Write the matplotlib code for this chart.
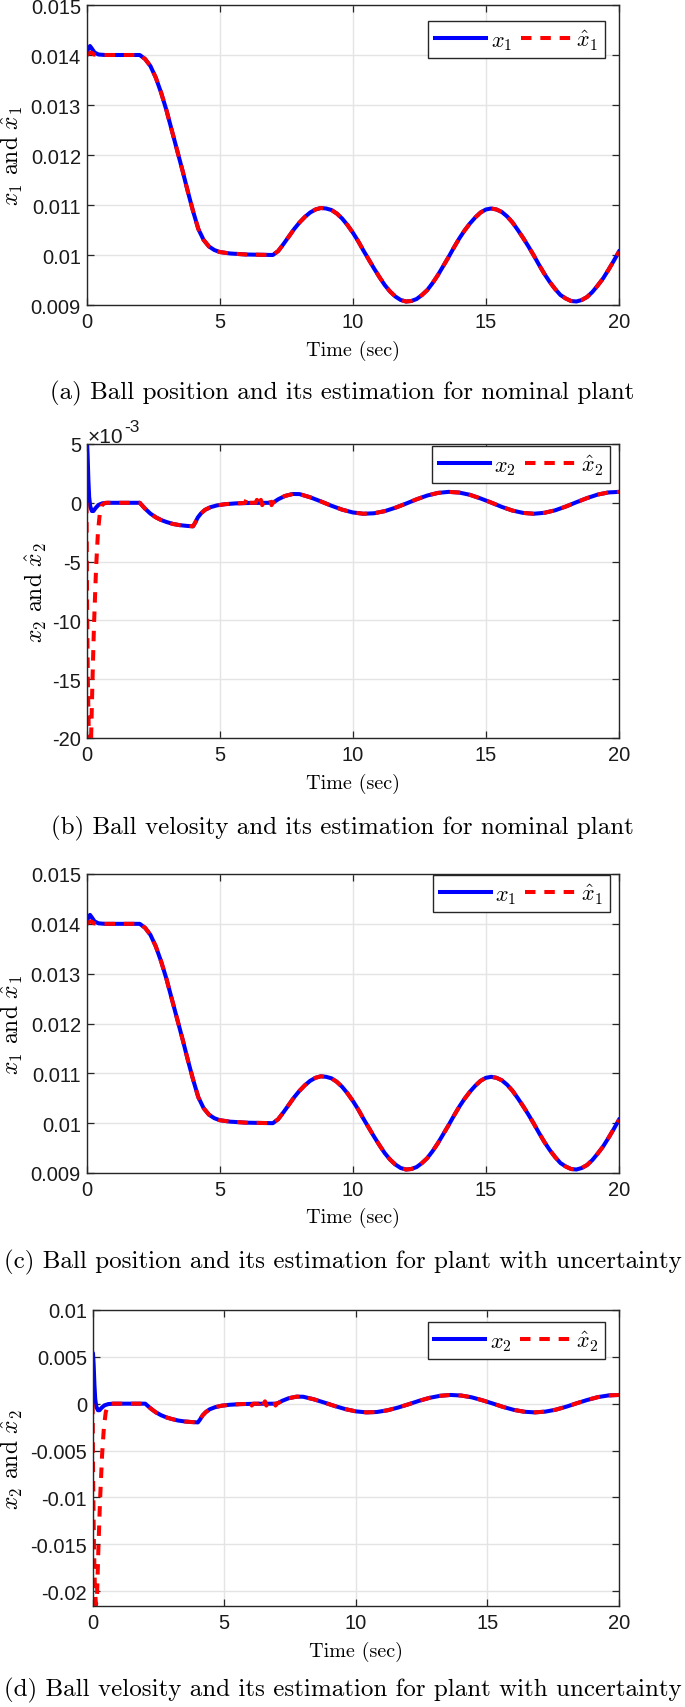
import numpy as np
import matplotlib
matplotlib.use('Agg')
import matplotlib.pyplot as plt
from matplotlib.ticker import FuncFormatter, FixedLocator

plt.rcParams['font.family'] = 'Liberation Sans'
plt.rcParams['mathtext.fontset'] = 'cm'
plt.rcParams['axes.unicode_minus'] = False

# ball position x1 (units of 1e-3 m)
t_x1 = [0.0, 0.06, 0.13, 0.2, 0.3, 0.45, 0.7, 2.0, 2.2, 2.4, 2.6, 2.8, 3.0, 3.2,
        3.4, 3.6, 3.8, 4.0, 4.2, 4.4, 4.6, 4.8, 5.0, 5.4, 6.0, 7.0, 7.2, 7.4,
        7.6, 7.8, 8.0, 8.2, 8.4, 8.6, 8.8, 9.0, 9.2, 9.4, 9.6, 9.8, 10.0, 10.2,
        10.4, 10.6, 10.8, 11.0, 11.2, 11.4, 11.6, 11.8, 12.0, 12.2, 12.4, 12.6,
        12.8, 13.0, 13.2, 13.4, 13.6, 13.8, 14.0, 14.2, 14.4, 14.6, 14.8, 15.0,
        15.2, 15.4, 15.6, 15.8, 16.0, 16.2, 16.4, 16.6, 16.8, 17.0, 17.2, 17.4,
        17.6, 17.8, 18.0, 18.2, 18.4, 18.6, 18.8, 19.0, 19.2, 19.4, 19.6, 19.8, 20.0]
x1 = [14.0, 14.12, 14.18, 14.13, 14.05, 14.01, 14.0, 14.0, 13.92, 13.78, 13.55, 13.25, 12.9, 12.5,
      12.1, 11.7, 11.28, 10.88, 10.52, 10.3, 10.17, 10.1, 10.06, 10.03, 10.01, 10.0, 10.08, 10.22,
      10.37, 10.52, 10.65, 10.76, 10.85, 10.91, 10.94, 10.93, 10.9, 10.83, 10.73, 10.6, 10.45, 10.28,
      10.09, 9.91, 9.73, 9.56, 9.4, 9.27, 9.17, 9.1, 9.07, 9.08, 9.12, 9.2,
      9.3, 9.44, 9.6, 9.78, 9.96, 10.15, 10.33, 10.49, 10.63, 10.75, 10.85, 10.91,
      10.93, 10.91, 10.86, 10.77, 10.65, 10.5, 10.34, 10.17, 9.99, 9.8, 9.62, 9.46,
      9.32, 9.2, 9.13, 9.08, 9.07, 9.1, 9.16, 9.26, 9.39, 9.53, 9.7, 9.88, 10.07]
# estimate only differs from x1 during the first half second
t_x1hat_head = [0.0, 0.08, 0.17, 0.28, 0.45]
x1hat_head = [14.0, 14.03, 14.05, 14.01, 14.0]

# ball velocity x2 (units of 1e-3 m/s)
t_x2 = [0.0, 0.015, 0.04, 0.07, 0.1, 0.14, 0.2, 0.26, 0.34, 0.45, 0.6, 0.8, 2.0, 2.2,
        2.4, 2.6, 2.8, 3.0, 3.25, 3.5, 3.75, 4.0, 4.08, 4.18, 4.3, 4.45, 4.65, 4.9,
        5.2, 5.6, 6.2, 7.0, 7.2, 7.45, 7.75, 8.0, 8.4, 8.8, 9.2, 9.6, 10.0, 10.4,
        10.8, 11.2, 11.6, 12.0, 12.4, 12.8, 13.2, 13.6, 14.0, 14.4, 14.8, 15.2,
        15.6, 16.0, 16.4, 16.8, 17.2, 17.6, 18.0, 18.4, 18.8, 19.2, 19.6, 20.0]
x2 = [0.0, 5.4, 4.2, 2.0, 0.5, -0.3, -0.7, -0.7, -0.45, -0.18, -0.04, 0.0, 0.0, -0.5,
      -0.92, -1.23, -1.46, -1.63, -1.8, -1.9, -1.96, -2.0, -1.7, -1.25, -0.9, -0.6, -0.38, -0.22,
      -0.12, -0.05, -0.01, 0.0, 0.3, 0.58, 0.75, 0.74, 0.47, 0.12, -0.25, -0.58, -0.82, -0.93,
      -0.89, -0.71, -0.42, -0.07, 0.3, 0.62, 0.84, 0.93, 0.87, 0.68, 0.37, 0.02,
      -0.35, -0.66, -0.86, -0.93, -0.85, -0.64, -0.32, 0.05, 0.4, 0.7, 0.88, 0.93]
# estimate: big negative transient at start, small ripple around 6-7 s
t_x2hat_head = [0.0, 0.02, 0.05, 0.09, 0.13, 0.17, 0.22, 0.28, 0.36, 0.43, 0.5, 0.58, 0.7]
x2hat_head = [0.0, -8.0, -15.0, -20.0, -21.5, -20.3, -15.5, -10.5, -5.5, -2.5, -0.9, -0.2, 0.0]
t_x2hat_ripple = [5.95, 6.0, 6.05, 6.1, 6.35, 6.4, 6.45, 6.55, 6.6, 6.65, 6.85, 6.9, 6.95, 7.0]
x2hat_ripple = [-0.02, 0.25, -0.2, 0.0, 0.0, 0.25, -0.25, 0.25, -0.2, 0.0, 0.0, 0.25, -0.2, 0.0]

time_ticks = [0, 5, 10, 15, 20]
pos_ticks = [0.009, 0.010, 0.011, 0.012, 0.013, 0.014, 0.015]
vel_ticks_e3 = [-20, -15, -10, -5, 0, 5]
vel_ticks = [-0.02, -0.015, -0.01, -0.005, 0, 0.005, 0.01]

captions = ['(a) Ball position and its estimation for nominal plant',
            '(b) Ball velosity and its estimation for nominal plant',
            '(c) Ball position and its estimation for plant with uncertainty',
            '(d) Ball velosity and its estimation for plant with uncertainty']

# assemble the estimate series
t_x1 = np.array(t_x1)
x1 = np.array(x1) * 1e-3
keep = t_x1 >= 0.7
t_x1hat = np.concatenate([t_x1hat_head, t_x1[keep]])
x1hat = np.concatenate([np.array(x1hat_head) * 1e-3, x1[keep]])

t_x2 = np.array(t_x2)
x2_e3 = np.array(x2)
keep = (t_x2 >= 0.8) & ((t_x2 < 5.9) | (t_x2 > 7.0))
t_x2hat = np.concatenate([t_x2hat_head, t_x2[keep], t_x2hat_ripple])
x2hat_e3 = np.concatenate([x2hat_head, x2_e3[keep], x2hat_ripple])
order = np.argsort(t_x2hat, kind='stable')
t_x2hat, x2hat_e3 = t_x2hat[order], x2hat_e3[order]

W, H = 685, 1708
fig = plt.figure(figsize=(W / 100, H / 100), dpi=100)

def px_axes(left, top, right, bottom):
    return fig.add_axes([left / W, 1 - bottom / H, (right - left) / W, (bottom - top) / H])

def style(ax, yticks):
    ax.set_xlim(0, 20)
    ax.xaxis.set_major_locator(FixedLocator(time_ticks))
    ax.yaxis.set_major_locator(FixedLocator(yticks))
    fmt = FuncFormatter(lambda v, p: '%g' % v)
    ax.xaxis.set_major_formatter(fmt)
    ax.yaxis.set_major_formatter(fmt)
    ax.grid(True, color='#e4e4e4', lw=1.0)
    ax.set_axisbelow(True)
    for s in ax.spines.values():
        s.set_color('#262626')
        s.set_linewidth(1.0)
    ax.tick_params(direction='in', length=5, width=0.9, color='#262626',
                   labelcolor='#1a1a1a', labelsize=14.5, top=True, right=True)
    ax.tick_params(axis='x', pad=5)
    ax.tick_params(axis='y', pad=4)

def draw(ax, t, y, th, yh, name):
    l1, = ax.plot(t, y, color='blue', lw=2.9)
    l2, = ax.plot(th, yh, color='red', lw=2.9, ls=(0, (2.6, 2.2)))
    return [l1, l2], ['$x_%s$' % name, '$\\hat{x}_%s$' % name]

def legend(ax, handles, labels, anchor):
    leg = ax.legend(handles, labels, ncol=2, loc='upper right', bbox_to_anchor=anchor,
                    fontsize=16, handlelength=2.3, handletextpad=0.2, columnspacing=0.4,
                    borderpad=0.3, borderaxespad=0, fancybox=False, framealpha=1,
                    edgecolor='#262626')
    leg.get_frame().set_linewidth(1.0)

def labels(ax, ylab, ylab_x, xlab_y):
    ax.set_xlabel('Time (sec)', family='cmr10', fontsize=14.5)
    ax.set_ylabel(ylab, family='cmr10', fontsize=17)
    ax.xaxis.set_label_coords(0.5, xlab_y)
    ax.yaxis.set_label_coords(ylab_x, 0.5)

# (a)
ax = px_axes(86.5, 6, 619, 306)
h, lb = draw(ax, t_x1, x1, t_x1hat, x1hat, '1')
ax.set_ylim(0.009, 0.015)
style(ax, pos_ticks)
legend(ax, h, lb, (0.974, 0.947))
labels(ax, '$x_1$ and $\\hat{x}_1$', -0.1155, -0.117)

# (b)
ax = px_axes(86.5, 445, 619, 739)
h, lb = draw(ax, t_x2, x2_e3, t_x2hat, x2hat_e3, '2')
ax.set_ylim(-20, 5)
style(ax, vel_ticks_e3)
legend(ax, h, lb, (0.983, 0.993))
labels(ax, '$x_2$ and $\\hat{x}_2$', -0.070, -0.119)
# MATLAB-style exponent label above the y axis
base = ax.annotate('\u00d710', xy=(0, 1), xycoords='axes fraction',
                   xytext=(1, 1.5), textcoords='offset points', ha='left', va='baseline',
                   fontsize=15, color='#1a1a1a')
ax.annotate('-3', xy=(1, 0), xycoords=base, xytext=(0.3, 10.5), textcoords='offset points',
            ha='left', va='baseline', fontsize=12.5, color='#1a1a1a')

# (c)
ax = px_axes(86.5, 875, 619, 1174)
h, lb = draw(ax, t_x1, x1, t_x1hat, x1hat, '1')
ax.set_ylim(0.009, 0.015)
style(ax, pos_ticks)
legend(ax, h, lb, (0.983, 0.997))
labels(ax, '$x_1$ and $\\hat{x}_1$', -0.1155, -0.114)

# (d)
ax = px_axes(92.6, 1311, 619, 1607)
h, lb = draw(ax, t_x2, x2_e3 * 1e-3, t_x2hat, x2hat_e3 * 1e-3, '2')
ax.set_ylim(-0.0216, 0.01)
style(ax, vel_ticks)
legend(ax, h, lb, (0.974, 0.959))
labels(ax, '$x_2$ and $\\hat{x}_2$', -0.128, -0.118)

for cap, yc in zip(captions, [393, 828, 1262, 1690]):
    fig.text(0.5, 1 - yc / H, cap, ha='center', va='center', family='cmr10', fontsize=18.0)

fig.savefig('out.png', dpi=100)
